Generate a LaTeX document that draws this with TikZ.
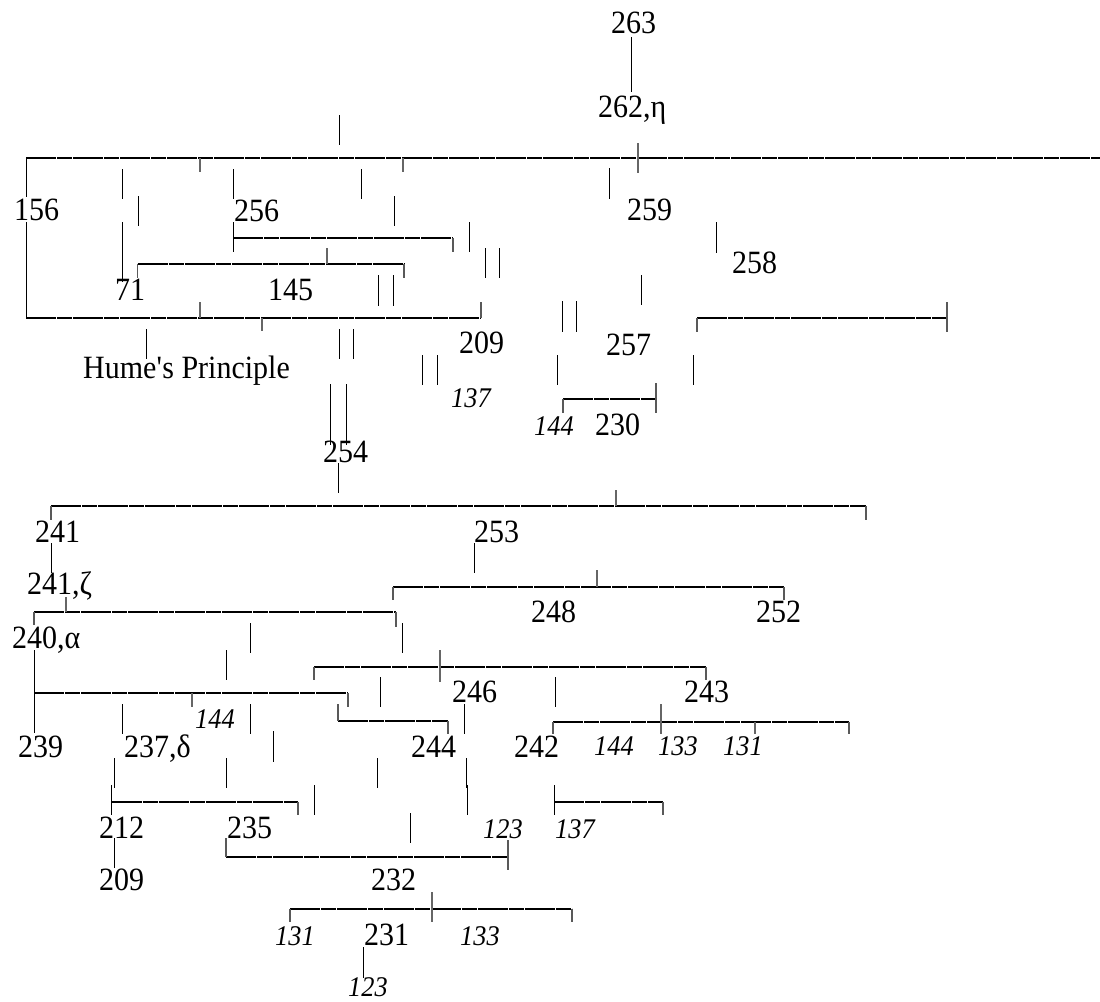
\documentclass[tikz,border=0pt]{standalone}
\usepackage{fontspec}
\setmainfont{Liberation Serif}[FakeStretch=0.923]
\usetikzlibrary{positioning}

\begin{document}
\begin{tikzpicture}[
    x=1pt, y=-1pt,
    num/.style={inner sep=0pt, anchor=base west, font=\fontsize{32.5}{32.5}\selectfont},
    refnum/.style={inner sep=0pt, anchor=base west, font=\fontsize{28.5}{28.5}\selectfont\itshape},
    rule/.style={line width=1.6pt, dash pattern=on 30pt off 1pt on 15pt off 1pt},
    stroke/.style={line width=0.9pt},
    drop/.style={line width=1.1pt, draw=black!65},
    tick/.style={line width=1.3pt, draw=black!60}
]
\useasboundingbox (0,0) rectangle (1100,1001);

% Conclusion
\node[num] (n263) at (611,33) {263};
\node[num] (n262) at (598,117) {262,η};

% First level
\node[num] (n156) at (14,220) {156};
\node[num] (n256) at (234,221) {256};
\node[num] (n259) at (627,220) {259};
\node[num] (n258) at (732,273) {258};
\node[num] (n71) at (115,300) {71};
\node[num] (n145) at (268,300) {145};
\node[num] (hume) at (83,378) {Hume\textquotesingle s Principle};
\node[num] (n209a) at (459,353) {209};
\node[num] (n257) at (606,355) {257};
\node[refnum] (r137a) at (451,407) {137};
\node[refnum] (r144a) at (534,435) {144};
\node[num] (n230) at (595,435) {230};

% Second level
\node[num] (n254) at (323,462) {254};
\node[num] (n241) at (35,542) {241};
\node[num] (n253) at (474,542) {253};
\node[num] (n241z) at (27,594) {241,ζ};
\node[num] (n248) at (531,622) {248};
\node[num] (n252) at (756,622) {252};
\node[num] (n240) at (12,648) {240,α};
\node[num] (n246) at (452,702) {246};
\node[num] (n243) at (684,702) {243};
\node[refnum] (r144b) at (195,728) {144};
\node[num] (n239) at (18,757) {239};
\node[num] (n237) at (124,757) {237,δ};
\node[num] (n244) at (411,757) {244};
\node[num] (n242) at (514,757) {242};
\node[refnum] (r144c) at (594,755) {144};
\node[refnum] (r133a) at (658,755) {133};
\node[refnum] (r131a) at (723,755) {131};

% Third level
\node[num] (n212) at (99,838) {212};
\node[num] (n235) at (227,838) {235};
\node[refnum] (r123a) at (483,838) {123};
\node[refnum] (r137b) at (555,838) {137};
\node[num] (n209b) at (99,890) {209};
\node[num] (n232) at (371,890) {232};
\node[refnum] (r131b) at (275,945) {131};
\node[num] (n231) at (364,945) {231};
\node[refnum] (r133b) at (460,945) {133};
\node[refnum] (r123b) at (348,996) {123};

% Horizontal rules
\draw[rule] (26,158) -- (1100,158);
\draw[rule] (233,238) -- (453,238);
\draw[rule] (137.5,264) -- (404,264);
\draw[rule] (26,318) -- (481,318);
\draw[rule] (697,318) -- (947,318);
\draw[rule] (563,399) -- (656,399);
\draw[rule] (51,506) -- (866,506);
\draw[rule] (393,587) -- (784,587);
\draw[rule] (34,612) -- (396,612);
\draw[rule] (314,667) -- (706,667);
\draw[rule] (34,693) -- (348,693);
\draw[rule] (338,721) -- (448,721);
\draw[rule] (553,722) -- (849,722);
\draw[rule] (111.5,802) -- (298,802);
\draw[rule] (554,802) -- (663,802);
\draw[rule] (226,857) -- (508,857);
\draw[rule] (290,909) -- (572,909);

% Corners
\draw[drop] (453,238) -- (453,252);
\draw[drop] (137.5,264) -- (137.5,278);
\draw[drop] (404,264) -- (404,278);
\draw[drop] (481,318) -- (481,302);
\draw[drop] (697,318) -- (697,332);
\draw[drop] (947,302) -- (947,332);
\draw[drop] (563,399) -- (563,413);
\draw[drop] (656,383) -- (656,413);
\draw[drop] (51,506) -- (51,520);
\draw[drop] (866,506) -- (866,520);
\draw[drop] (393,587) -- (393,600);
\draw[drop] (784,587) -- (784,600);
\draw[drop] (34,612) -- (34,625);
\draw[drop] (396,612) -- (396,627);
\draw[drop] (314,667) -- (314,680);
\draw[drop] (706,667) -- (706,680);
\draw[drop] (348,693) -- (348,707);
\draw[drop] (338,704) -- (338,721);
\draw[drop] (448,721) -- (448,734);
\draw[drop] (553,722) -- (553,734);
\draw[drop] (849,722) -- (849,734);
\draw[drop] (298,802) -- (298,815);
\draw[drop] (663,802) -- (663,815);
\draw[drop] (226,838) -- (226,857);
\draw[drop] (508,840) -- (508,870);
\draw[drop] (290,909) -- (290,922);
\draw[drop] (572,909) -- (572,922);

% Ticks and crossings
\draw[tick] (638,143) -- (638,173);
\draw[tick] (200,158) -- (200,172);
\draw[tick] (403,158) -- (403,172);
\draw[tick] (327,248) -- (327,264);
\draw[tick] (200,302) -- (200,318);
\draw[tick] (262,318) -- (262,331);
\draw[tick] (616,490) -- (616,506);
\draw[tick] (597,570) -- (597,587);
\draw[tick] (66,597) -- (66,612);
\draw[tick] (440,650) -- (440,682);
\draw[tick] (192,693) -- (192,707);
\draw[tick] (661,704) -- (661,734);
\draw[tick] (755,722) -- (755,734);
\draw[tick] (432,892) -- (432,922);

% Vertical strokes
\draw[stroke] (631,37) -- (631,92);
\draw[stroke] (339,115) -- (339,145);
\draw[stroke] (26,158) -- (26,197);
\draw[stroke] (26,222) -- (26,318);
\draw[stroke] (122,169) -- (122,199);
\draw[stroke] (122,222) -- (122,282);
\draw[stroke] (138.5,196) -- (138.5,226);
\draw[stroke] (233,169) -- (233,199);
\draw[stroke] (233,222) -- (233,252);
\draw[stroke] (361,169) -- (361,199);
\draw[stroke] (394,196) -- (394,226);
\draw[stroke] (469,222) -- (469,252);
\draw[stroke] (485,248) -- (485,278);
\draw[stroke] (499,248) -- (499,278);
\draw[stroke] (378,275) -- (378,306);
\draw[stroke] (393,275) -- (393,306);
\draw[stroke] (146,329) -- (146,359);
\draw[stroke] (339,329) -- (339,359);
\draw[stroke] (353,329) -- (353,359);
\draw[stroke] (422,355) -- (422,385);
\draw[stroke] (437,355) -- (437,385);
\draw[stroke] (330,384) -- (330,445);
\draw[stroke] (346,384) -- (346,445);
\draw[stroke] (609,168) -- (609,199);
\draw[stroke] (716.5,222) -- (716.5,253);
\draw[stroke] (641,275) -- (641,305);
\draw[stroke] (562,301) -- (562,332);
\draw[stroke] (576,301) -- (576,332);
\draw[stroke] (557,355) -- (557,385);
\draw[stroke] (693,355) -- (693,385);
\draw[stroke] (338.5,463) -- (338.5,493);
\draw[stroke] (51,543) -- (51,573);
\draw[stroke] (474,543) -- (474,573);
\draw[stroke] (250,623) -- (250,653);
\draw[stroke] (402,623) -- (402,653);
\draw[stroke] (226,650) -- (226,680);
\draw[stroke] (34,650) -- (34,733);
\draw[stroke] (380,677) -- (380,707);
\draw[stroke] (555.5,677) -- (555.5,707);
\draw[stroke] (122,704) -- (122,734);
\draw[stroke] (250,704) -- (250,734);
\draw[stroke] (464,704) -- (464,734);
\draw[stroke] (273,731) -- (273,762);
\draw[stroke] (114,758) -- (114,788);
\draw[stroke] (226,758) -- (226,788);
\draw[stroke] (377,758) -- (377,788);
\draw[stroke] (466,758) -- (466,788);
\draw[stroke] (467,785) -- (467,815);
\draw[stroke] (111.5,785) -- (111.5,815);
\draw[stroke] (554,785) -- (554,815);
\draw[stroke] (314,785) -- (314,815);
\draw[stroke] (410,813) -- (410,843);
\draw[stroke] (114,838) -- (114,868);
\draw[stroke] (363,947) -- (363,978);

\end{tikzpicture}
\end{document}
